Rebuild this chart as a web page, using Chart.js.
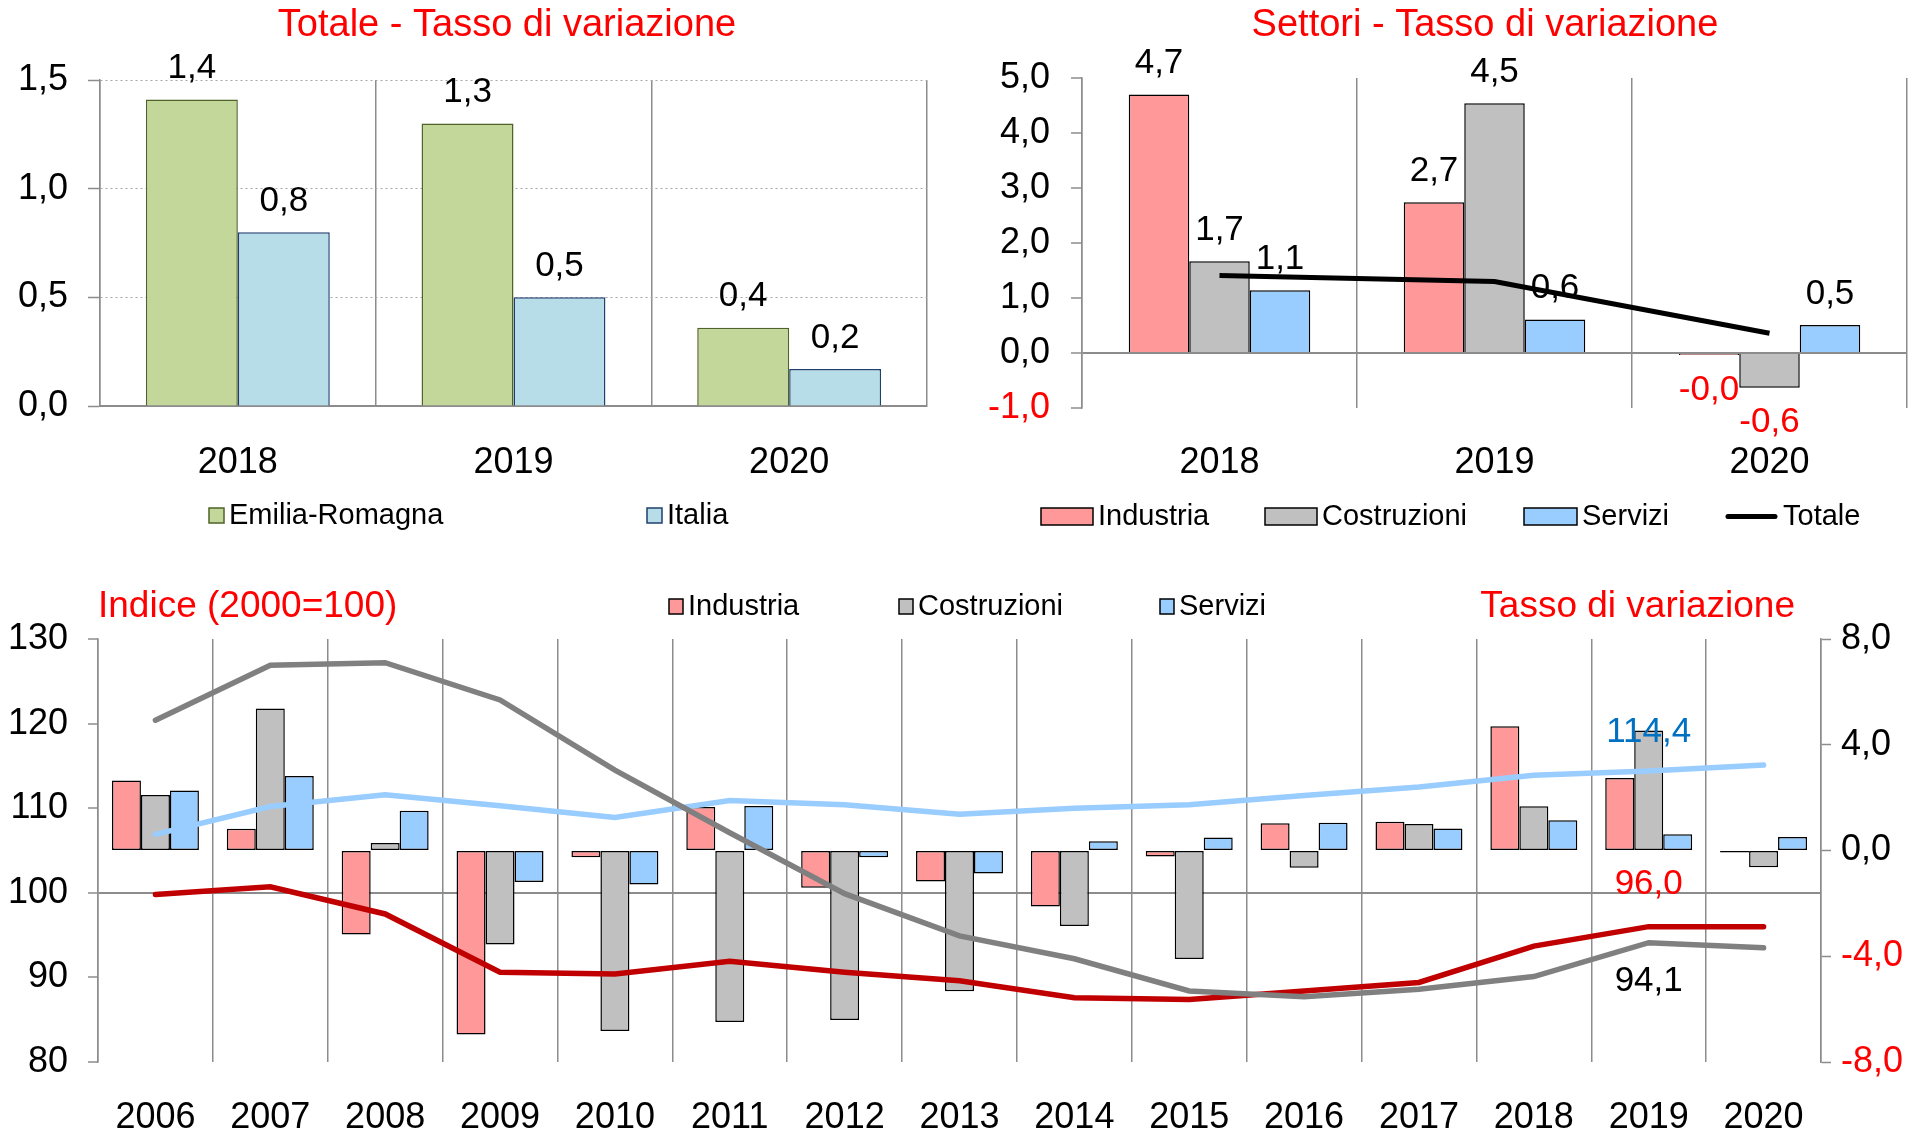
<!DOCTYPE html>
<html lang="it">
<head>
<meta charset="utf-8">
<title>Valore aggiunto - Emilia-Romagna</title>
<script src="https://cdn.jsdelivr.net/npm/chart.js@4.4.1/dist/chart.umd.min.js"></script>
<style>
  html, body { margin: 0; padding: 0; background: #fff; }
  body { position: relative; width: 1926px; height: 1136px; overflow: hidden; }
  .panel { position: absolute; }
</style>
</head>
<body>
<div class="panel" style="left:0;top:0;width:960px;height:560px"><canvas id="chart-totale" width="960" height="560"></canvas></div>
<div class="panel" style="left:960px;top:0;width:966px;height:560px"><canvas id="chart-settori" width="966" height="560"></canvas></div>
<div class="panel" style="left:0;top:560px;width:1926px;height:576px"><canvas id="chart-serie" width="1926" height="576"></canvas></div>
<script>
  // Top panels: 2018-2020
  const years = ["2018", "2019", "2020"];
  const totEmilia = [1.41, 1.30, 0.36];
  const totItalia = [0.80, 0.50, 0.17];
  const setIndustria = [4.70, 2.74, -0.03];
  const setCostruzioni = [1.67, 4.54, -0.63];
  const setServizi = [1.14, 0.61, 0.51];
  const setTotale = [1.41, 1.30, 0.36];
  const ticksTotale = [0, 0.5, 1.0, 1.5];
  const ticksSettori = [-1, 0, 1, 2, 3, 4, 5];

  // Bottom panel: 2006-2020
  const serieYears = ["2006", "2007", "2008", "2009", "2010", "2011", "2012", "2013", "2014", "2015", "2016", "2017", "2018", "2019", "2020"];
  const varIndustria = [2.65, 0.82, -3.18, -6.96, -0.26, 1.65, -1.41, -1.17, -2.12, -0.23, 1.03, 1.09, 4.70, 2.74, -0.03];
  const varCostruzioni = [2.10, 5.37, 0.28, -3.56, -6.83, -6.49, -6.41, -5.32, -2.86, -4.10, -0.65, 1.00, 1.67, 4.54, -0.63];
  const varServizi = [2.27, 2.82, 1.50, -1.19, -1.29, 1.68, -0.26, -0.87, 0.35, 0.49, 1.05, 0.83, 1.14, 0.61, 0.51];
  const idxCostruzioni = [120.4, 126.9, 127.2, 122.8, 114.5, 107.1, 99.9, 94.9, 92.2, 88.4, 87.7, 88.6, 90.1, 94.1, 93.5];
  const idxIndustria = [99.8, 100.7, 97.5, 90.6, 90.4, 91.9, 90.6, 89.6, 87.6, 87.4, 88.4, 89.4, 93.7, 96.0, 96.0];
  const idxServizi = [106.9, 110.2, 111.6, 110.3, 108.9, 110.9, 110.4, 109.3, 110.0, 110.4, 111.5, 112.5, 113.9, 114.4, 115.1];
  const ticksIndice = [80, 90, 100, 110, 120, 130];
  const ticksTasso = [-8, -4, 0, 4, 8];

  const FONT = "'Liberation Sans', Arial, sans-serif";
  const RED = "#FF0000";
  const AXIS = "#8C8C8C";
  const TICK_SIZE = 36;

  Chart.defaults.font.family = FONT;
  Chart.defaults.color = "#000";

  const fmt = function (v) {
    return Number(v).toFixed(1).replace(".", ",");
  };
  const signColor = function (c) {
    return c.tick && c.tick.value < 0 ? RED : "#000";
  };
  const fixedTicks = function (list) {
    return function (scale) {
      scale.ticks = list.map(function (v) { return { value: v }; });
    };
  };

  // Value labels above (or below, in red) every bar
  function valueLabels(above, below) {
    return {
      id: "valueLabels",
      afterDatasetsDraw: function (chart) {
        const ctx = chart.ctx;
        ctx.save();
        ctx.font = "35px " + FONT;
        ctx.textAlign = "center";
        ctx.textBaseline = "middle";
        chart.data.datasets.forEach(function (ds, i) {
          if (ds.type === "line") return;
          chart.getDatasetMeta(i).data.forEach(function (bar, j) {
            const v = ds.data[j];
            ctx.fillStyle = v < 0 ? RED : "#000";
            ctx.fillText(fmt(v), bar.x, v < 0 ? bar.y + below : bar.y - above);
          });
        });
        ctx.restore();
      },
    };
  }

  // Hand-placed legend row, Excel style
  function legendRow(y, items) {
    return {
      id: "legendRow",
      afterDraw: function (chart) {
        const ctx = chart.ctx;
        ctx.save();
        ctx.font = "29px " + FONT;
        ctx.textAlign = "left";
        ctx.textBaseline = "middle";
        items.forEach(function (it) {
          const ds = chart.data.datasets[it.dataset];
          if (it.line) {
            ctx.strokeStyle = ds.borderColor;
            ctx.lineWidth = ds.borderWidth;
            ctx.lineCap = "round";
            ctx.beginPath();
            ctx.moveTo(it.x + 3, y);
            ctx.lineTo(it.x + it.w - 3, y);
            ctx.stroke();
          } else {
            ctx.fillStyle = ds.backgroundColor;
            ctx.fillRect(it.x, y - it.h / 2, it.w, it.h);
            ctx.strokeStyle = ds.borderColor;
            ctx.lineWidth = 1.5;
            ctx.strokeRect(it.x, y - it.h / 2, it.w, it.h);
          }
          ctx.fillStyle = "#000";
          ctx.fillText(ds.label, it.x + it.w + 5, y);
        });
        ctx.restore();
      },
    };
  }

  // Titles and headers, placed as in the original layout
  function headerText(items) {
    return {
      id: "headerText",
      afterDraw: function (chart) {
        const ctx = chart.ctx;
        ctx.save();
        ctx.textBaseline = "middle";
        items.forEach(function (it) {
          ctx.font = it.size + "px " + FONT;
          ctx.fillStyle = it.color;
          ctx.textAlign = it.align;
          ctx.fillText(it.text, it.x, it.y);
        });
        ctx.restore();
      },
    };
  }

  // Value of a line point, written next to it
  function pointNotes(notes) {
    return {
      id: "pointNotes",
      afterDatasetsDraw: function (chart) {
        const ctx = chart.ctx;
        ctx.save();
        ctx.font = "35px " + FONT;
        ctx.textAlign = "center";
        ctx.textBaseline = "middle";
        notes.forEach(function (n) {
          const pt = chart.getDatasetMeta(n.dataset).data[n.index];
          ctx.fillStyle = n.color;
          ctx.fillText(fmt(chart.data.datasets[n.dataset].data[n.index]), pt.x, pt.y + n.dy);
        });
        ctx.restore();
      },
    };
  }

  // Totale - Tasso di variazione
  new Chart(document.getElementById("chart-totale"), {
    type: "bar",
    data: {
      labels: years,
      datasets: [
        { label: "Emilia-Romagna", data: totEmilia, backgroundColor: "#C4D79B", borderColor: "#4F6228", borderWidth: 1.5 },
        { label: "Italia", data: totItalia, backgroundColor: "#B7DEE8", borderColor: "#1F3F6E", borderWidth: 1.5 },
      ],
    },
    options: {
      responsive: false,
      animation: false,
      categoryPercentage: 0.667,
      barPercentage: 1,
      layout: { padding: { left: 0, right: 33, top: 80, bottom: 74 } },
      plugins: {
        legend: { display: false },
        tooltip: { enabled: false },
      },
      scales: {
        x: {
          grid: { color: AXIS, lineWidth: 1.5, drawTicks: false, offset: true },
          border: { color: AXIS, width: 2 },
          ticks: { font: { size: TICK_SIZE }, padding: 35 },
          afterFit: function (s) { s.height = 80; },
        },
        y: {
          min: 0,
          max: 1.5,
          afterBuildTicks: fixedTicks(ticksTotale),
          grid: { color: "#A6A6A6", lineWidth: 1, tickColor: AXIS, tickLength: 12, tickWidth: 1.5 },
          border: { color: AXIS, width: 1.5, dash: [2, 3] },
          ticks: { font: { size: TICK_SIZE }, padding: 20, callback: fmt },
          afterFit: function (s) { s.width = 100; },
        },
      },
    },
    plugins: [
      valueLabels(31, 35),
      headerText([
        { text: "Totale - Tasso di variazione", x: 507, y: 26, size: 38, color: RED, align: "center" },
      ]),
      legendRow(515.5, [
        { dataset: 0, x: 209, w: 15, h: 15 },
        { dataset: 1, x: 647, w: 15, h: 15 },
      ]),
    ],
  });

  // Settori - Tasso di variazione
  new Chart(document.getElementById("chart-settori"), {
    type: "bar",
    data: {
      labels: years,
      datasets: [
        { label: "Industria", data: setIndustria, backgroundColor: "#FF9999", borderColor: "#000", borderWidth: 1.5, minBarLength: 2, order: 1 },
        { label: "Costruzioni", data: setCostruzioni, backgroundColor: "#C0C0C0", borderColor: "#000", borderWidth: 1.5, order: 1 },
        { label: "Servizi", data: setServizi, backgroundColor: "#99CCFF", borderColor: "#000", borderWidth: 1.5, order: 1 },
        { type: "line", label: "Totale", data: setTotale, borderColor: "#000", borderWidth: 5, pointRadius: 0, order: 0 },
      ],
    },
    options: {
      responsive: false,
      animation: false,
      categoryPercentage: 0.66,
      barPercentage: 1,
      layout: { padding: { left: 0, right: 19, top: 78, bottom: 72 } },
      plugins: {
        legend: { display: false },
        tooltip: { enabled: false },
      },
      scales: {
        x: {
          grid: { color: AXIS, lineWidth: 1.5, drawTicks: false, offset: true },
          border: { display: false },
          ticks: { font: { size: TICK_SIZE }, padding: 33 },
          afterFit: function (s) { s.height = 80; },
        },
        y: {
          min: -1,
          max: 5,
          afterBuildTicks: fixedTicks(ticksSettori),
          grid: {
            color: function (c) { return c.tick && c.tick.value === 0 ? AXIS : "rgba(0,0,0,0)"; },
            lineWidth: 2,
            tickColor: AXIS,
            tickLength: 11,
            tickWidth: 1.5,
          },
          border: { color: AXIS, width: 1.5 },
          ticks: { font: { size: TICK_SIZE }, padding: 21, color: signColor, callback: fmt },
          afterFit: function (s) { s.width = 122; },
        },
      },
    },
    plugins: [
      valueLabels(31, 35),
      headerText([
        { text: "Settori - Tasso di variazione", x: 525, y: 26, size: 38, color: RED, align: "center" },
      ]),
      legendRow(516.5, [
        { dataset: 0, x: 81, w: 52, h: 17 },
        { dataset: 1, x: 305, w: 52, h: 17 },
        { dataset: 2, x: 564, w: 53, h: 17 },
        { dataset: 3, x: 765, w: 53, line: true },
      ]),
    ],
  });

  // Serie storica: indici (linee) e tassi di variazione (barre)
  const idx2019 = serieYears.indexOf("2019");
  new Chart(document.getElementById("chart-serie"), {
    type: "bar",
    data: {
      labels: serieYears,
      datasets: [
        { label: "Industria", data: varIndustria, yAxisID: "y1", backgroundColor: "#FF9999", borderColor: "#000", borderWidth: 1.5, borderSkipped: false, minBarLength: 2, order: 2 },
        { label: "Costruzioni", data: varCostruzioni, yAxisID: "y1", backgroundColor: "#C0C0C0", borderColor: "#000", borderWidth: 1.5, borderSkipped: false, order: 2 },
        { label: "Servizi", data: varServizi, yAxisID: "y1", backgroundColor: "#99CCFF", borderColor: "#000", borderWidth: 1.5, borderSkipped: false, order: 2 },
        { type: "line", label: "Servizi (indice)", data: idxServizi, yAxisID: "y", borderColor: "#99CCFF", borderWidth: 5.5, pointRadius: 0, borderCapStyle: "round", order: 1 },
        { type: "line", label: "Costruzioni (indice)", data: idxCostruzioni, yAxisID: "y", borderColor: "#808080", borderWidth: 5.5, pointRadius: 0, borderCapStyle: "round", order: 0 },
        { type: "line", label: "Industria (indice)", data: idxIndustria, yAxisID: "y", borderColor: "#C00000", borderWidth: 5.5, pointRadius: 0, borderCapStyle: "round", order: 0 },
      ],
    },
    options: {
      responsive: false,
      animation: false,
      categoryPercentage: 0.757,
      barPercentage: 1,
      layout: { padding: { left: 0, right: 0, top: 79, bottom: 0 } },
      plugins: {
        legend: { display: false },
        tooltip: { enabled: false },
      },
      scales: {
        x: {
          grid: { color: AXIS, lineWidth: 1.5, drawTicks: false, offset: true },
          border: { display: false },
          ticks: { font: { size: TICK_SIZE }, padding: 34 },
          afterFit: function (s) { s.height = 74; },
        },
        y: {
          position: "left",
          min: 80,
          max: 130,
          afterBuildTicks: fixedTicks(ticksIndice),
          grid: {
            color: function (c) { return c.tick && c.tick.value === 100 ? AXIS : "rgba(0,0,0,0)"; },
            lineWidth: 2,
            tickColor: AXIS,
            tickLength: 10,
            tickWidth: 1.5,
          },
          border: { color: AXIS, width: 1.5 },
          ticks: { font: { size: TICK_SIZE }, padding: 20 },
          afterFit: function (s) { s.width = 98; },
        },
        y1: {
          position: "right",
          min: -8,
          max: 8,
          afterBuildTicks: fixedTicks(ticksTasso),
          grid: { drawOnChartArea: false, tickColor: AXIS, tickLength: 10, tickWidth: 1.5 },
          border: { color: AXIS, width: 1.5 },
          ticks: { font: { size: TICK_SIZE }, padding: 10, color: signColor, callback: fmt },
          afterFit: function (s) { s.width = 105; },
        },
      },
    },
    plugins: [
      headerText([
        { text: "Indice (2000=100)", x: 98, y: 46.5, size: 37, color: RED, align: "left" },
        { text: "Tasso di variazione", x: 1795, y: 46.5, size: 37, color: RED, align: "right" },
      ]),
      legendRow(46.5, [
        { dataset: 0, x: 669, w: 14, h: 15 },
        { dataset: 1, x: 899, w: 14, h: 15 },
        { dataset: 2, x: 1160, w: 14, h: 15 },
      ]),
      pointNotes([
        { dataset: 3, index: idx2019, dy: -39, color: "#0070C0" },
        { dataset: 5, index: idx2019, dy: -42, color: RED },
        { dataset: 4, index: idx2019, dy: 39, color: "#000" },
      ]),
    ],
  });
</script>
</body>
</html>
